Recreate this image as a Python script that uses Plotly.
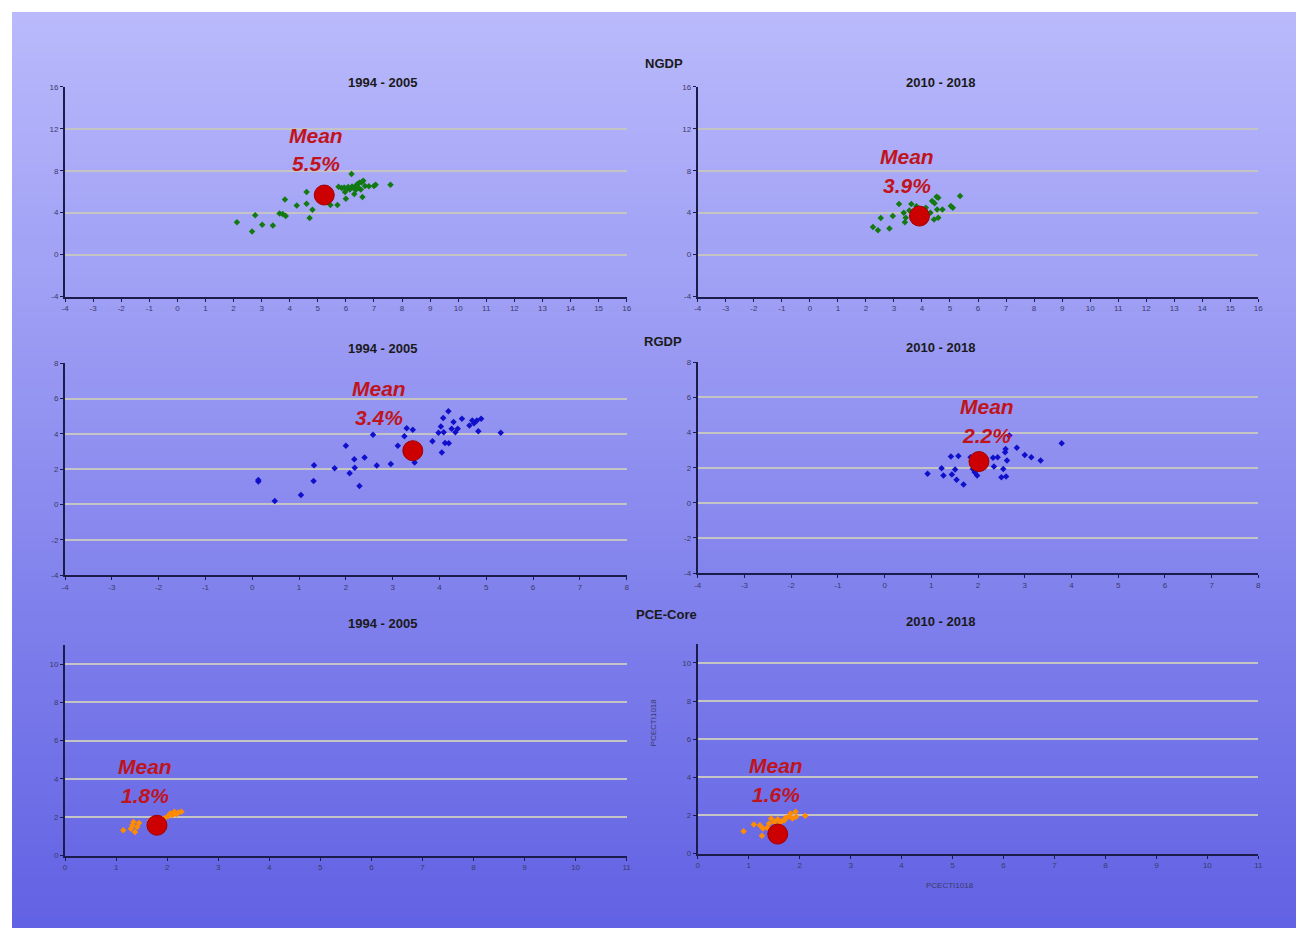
import plotly.graph_objects as go

# ---------------- data ----------------
ngdp_9405_x = [2.12, 2.66, 2.77, 3.02, 3.40, 3.64, 3.75, 3.86, 3.83, 4.25, 4.60, 4.60, 4.71, 4.81,
               5.45, 5.70, 5.74, 5.85, 5.97, 6.00, 6.08, 6.20, 6.26, 6.30, 6.38, 6.44, 6.48, 6.53,
               6.59, 6.62, 6.68, 6.82, 7.00, 7.06, 7.59, 5.94, 6.14, 6.35, 6.05, 6.22, 6.40, 6.56]
ngdp_9405_y = [3.09, 2.20, 3.76, 2.84, 2.78, 3.92, 3.86, 3.67, 5.26, 4.69, 5.96, 4.85, 3.48, 4.27,
               4.72, 4.72, 6.48, 6.35, 5.96, 5.33, 6.44, 7.69, 6.38, 5.77, 6.60, 6.38, 6.86, 6.22,
               5.49, 7.05, 6.54, 6.51, 6.54, 6.67, 6.67, 6.41, 6.22, 6.16, 6.30, 6.50, 6.70, 6.90]
ngdp_1018_x = [2.25, 2.43, 2.53, 2.84, 2.96, 3.18, 3.35, 3.39, 3.62, 3.69, 4.14, 4.36, 4.43, 4.52,
               4.58, 4.54, 4.73, 5.03, 5.10, 5.36, 4.58, 3.42, 3.55, 4.30, 4.45, 3.80]
ngdp_1018_y = [2.62, 2.33, 3.48, 2.49, 3.67, 4.82, 3.99, 3.09, 4.82, 3.99, 4.47, 5.10, 3.35, 5.52,
               3.51, 4.31, 4.31, 4.63, 4.47, 5.58, 5.42, 3.51, 4.20, 4.00, 4.90, 4.60]
rgdp_9405_x = [0.13, 0.13, 0.48, 1.04, 1.31, 1.32, 1.76, 2.00, 2.08, 2.18, 2.19, 2.29, 2.40, 2.58,
               2.66, 2.96, 3.11, 3.25, 3.30, 3.43, 3.47, 3.50, 3.85, 3.98, 4.03, 4.05, 4.08, 4.09,
               4.12, 4.19, 4.20, 4.26, 4.30, 4.34, 4.39, 4.48, 4.64, 4.70, 4.74, 4.80, 4.83, 4.89, 5.31]
rgdp_9405_y = [1.30, 1.39, 0.19, 0.53, 1.33, 2.23, 2.06, 3.33, 1.77, 2.57, 2.08, 1.05, 2.67, 3.96,
               2.21, 2.30, 3.33, 3.87, 4.32, 4.23, 2.38, 3.33, 3.58, 4.06, 4.42, 2.95, 4.90, 4.10,
               3.49, 5.28, 3.47, 4.29, 4.67, 4.10, 4.29, 4.86, 4.48, 4.76, 4.61, 4.76, 4.15, 4.86, 4.06]
rgdp_1018_x = [0.92, 1.22, 1.26, 1.42, 1.44, 1.51, 1.54, 1.58, 1.69, 1.84, 1.89, 1.93, 1.98, 2.02,
               2.32, 2.34, 2.42, 2.50, 2.54, 2.58, 2.59, 2.60, 2.62, 2.67, 2.83, 3.00, 3.14, 3.34, 3.79]
rgdp_1018_y = [1.65, 1.97, 1.55, 2.64, 1.61, 1.90, 1.31, 2.67, 1.04, 2.60, 1.93, 1.74, 1.55, 2.12,
               2.56, 2.07, 2.60, 1.46, 1.93, 2.88, 3.07, 1.50, 2.41, 3.83, 3.13, 2.73, 2.60, 2.41, 3.39]
pce_9405_x = [1.14, 1.29, 1.34, 1.37, 1.41, 1.45, 1.32, 1.67, 2.02, 2.06, 2.14, 2.22, 2.28, 2.10, 1.95, 2.18]
pce_9405_y = [1.32, 1.40, 1.75, 1.23, 1.49, 1.70, 1.58, 1.84, 2.07, 2.19, 2.28, 2.25, 2.28, 2.10, 1.95, 2.15]
pce_1018_x = [0.90, 1.10, 1.22, 1.28, 1.26, 1.36, 1.44, 1.50, 1.57, 1.65, 1.72, 1.78, 1.82, 1.86,
              1.92, 1.93, 2.11, 1.40, 1.60, 1.70]
pce_1018_y = [1.17, 1.52, 1.49, 1.31, 0.93, 1.35, 1.84, 1.66, 1.80, 1.70, 1.87, 1.93, 2.10, 1.84,
              2.19, 1.93, 1.98, 1.58, 1.55, 1.75]

mean_x = [5.23, 3.91, 3.43, 2.02, 1.80, 1.57]
mean_y = [5.68, 3.67, 3.05, 2.35, 1.58, 1.02]
mean_labels = ["5.5%", "3.9%", "3.4%", "2.2%", "1.8%", "1.6%"]
label_x = [4.95, 3.46, 2.70, 2.19, 1.57, 1.53]
label_mean_y = [11.33, 9.33, 6.59, 5.50, 4.66, 4.61]
label_pct_y = [8.67, 6.57, 4.94, 3.85, 3.14, 3.09]

series_x = [ngdp_9405_x, ngdp_1018_x, rgdp_9405_x, rgdp_1018_x, pce_9405_x, pce_1018_x]
series_y = [ngdp_9405_y, ngdp_1018_y, rgdp_9405_y, rgdp_1018_y, pce_9405_y, pce_1018_y]
series_color = ["#137a13", "#137a13", "#1010cc", "#1010cc", "#ff8c00", "#ff8c00"]

panel_titles = ["1994 - 2005", "2010 - 2018"] * 3
group_titles = ["NGDP", "RGDP", "PCE-Core"]

# tick values / labels (hyphen minus as in the original)
ngdp_xticks = list(range(-4, 17))
ngdp_yticks = [-4, 0, 4, 8, 12, 16]
rgdp_xticks = list(range(-4, 9))
rgdp_yticks = [-4, -2, 0, 2, 4, 6, 8]
pce_xticks = list(range(0, 12))
pce_yticks = [0, 2, 4, 6, 8, 10]
x_tickvals = [ngdp_xticks, ngdp_xticks, rgdp_xticks, rgdp_xticks, pce_xticks, pce_xticks]
y_tickvals = [ngdp_yticks, ngdp_yticks, rgdp_yticks, rgdp_yticks, pce_yticks, pce_yticks]

x_ranges = [[-4, 16], [-4, 16], [-4, 8], [-4, 8], [0, 11], [0, 11]]
y_ranges = [[-4, 16], [-4, 16], [-4, 8], [-4, 8], [0, 11], [0, 11]]

# ---------------- layout geometry ----------------
W, H = 1296, 924
x_domains = [[0.04123, 0.47759], [0.53281, 0.96840]] * 3
y_domains = [[0.68907, 0.91818], [0.68907, 0.91818],
             [0.38469, 0.61597], [0.38687, 0.61707],
             [0.07813, 0.30832], [0.08030, 0.30942]]

fig = go.Figure()

# gradient background
n_bands = 90
top_c = (185, 185, 252)
bot_c = (98, 98, 228)
for i in range(n_bands):
    t = i / (n_bands - 1)
    c = tuple(int(round(top_c[k] + (bot_c[k] - top_c[k]) * t)) for k in range(3))
    fig.add_shape(type="rect", xref="paper", yref="paper",
                  x0=0, x1=1, y0=1 - (i + 1) / n_bands - 0.001, y1=1 - i / n_bands,
                  fillcolor="rgb(%d,%d,%d)" % c, line=dict(width=0), layer="below")

axis_font = dict(family="Liberation Sans, Arial", size=8, color="#3a3a6a")


def fmt(v):
    return ("-%d" % -v) if v < 0 else str(v)


for i in range(6):
    ax = "" if i == 0 else str(i + 1)
    xa = "x" + ax
    ya = "y" + ax
    fig.add_trace(go.Scatter(x=series_x[i], y=series_y[i], mode="markers",
                             marker=dict(symbol="diamond", size=5, color=series_color[i],
                                         line=dict(width=0)),
                             xaxis=xa, yaxis=ya, showlegend=False, hoverinfo="x+y"))
    fig.add_trace(go.Scatter(x=[mean_x[i]], y=[mean_y[i]], mode="markers",
                             marker=dict(symbol="circle", size=20, color="#cc0000",
                                         line=dict(width=1, color="#a00000")),
                             xaxis=xa, yaxis=ya, showlegend=False, hoverinfo="x+y"))
    common = dict(showline=True, linecolor="#1c1c4c", linewidth=2, ticks="outside",
                  ticklen=3, tickcolor="#1c1c4c", tickfont=axis_font, zeroline=False,
                  mirror=False, tickmode="array")
    fig.layout["xaxis" + ax] = dict(domain=x_domains[i], range=x_ranges[i],
                                    tickvals=x_tickvals[i],
                                    ticktext=[fmt(v) for v in x_tickvals[i]],
                                    showgrid=False, anchor=ya, fixedrange=True, **common)
    fig.layout["yaxis" + ax] = dict(domain=y_domains[i], range=y_ranges[i],
                                    tickvals=y_tickvals[i],
                                    ticktext=[fmt(v) for v in y_tickvals[i]],
                                    showgrid=True, gridcolor="#c4c4c4", gridwidth=1.5,
                                    anchor=xa, fixedrange=True, **common)
    mean_font = dict(family="Liberation Sans, Arial", size=21, color="#c0141c")
    fig.add_annotation(x=label_x[i], y=label_mean_y[i], xref=xa, yref=ya,
                       text="<b><i>Mean</i></b>", showarrow=False, font=mean_font)
    fig.add_annotation(x=label_x[i], y=label_pct_y[i], xref=xa, yref=ya,
                       text="<b><i>%s</i></b>" % mean_labels[i], showarrow=False, font=mean_font)

# titles
title_font = dict(family="Liberation Sans, Arial", size=13, color="#1a1a1a")
group_pos = [(0.50637, 0.95418), (0.50559, 0.63998), (0.50870, 0.33123)]
for g, (gx, gy) in zip(group_titles, group_pos):
    fig.add_annotation(x=gx, y=gy, xref="paper", yref="paper", text="<b>%s</b>" % g,
                       showarrow=False, font=title_font)
sub_pos = [(0.25980, 0.93345), (0.74982, 0.93345), (0.25980, 0.63234), (0.74982, 0.63343),
           (0.25980, 0.32141), (0.74982, 0.32359)]
for t, (sx, sy) in zip(panel_titles, sub_pos):
    fig.add_annotation(x=sx, y=sy, xref="paper", yref="paper", text="<b>%s</b>" % t,
                       showarrow=False, font=title_font)

# axis titles of last panel
small_font = dict(family="Liberation Sans, Arial", size=8, color="#3a3a6a")
fig.add_annotation(x=0.49859, y=0.19486, xref="paper", yref="paper", text="PCECTI1018",
                   textangle=-90, showarrow=False, font=small_font)
fig.add_annotation(x=0.74905, y=0.03799, xref="paper", yref="paper", text="PCECTI1018",
                   showarrow=False, font=small_font)

fig.update_layout(width=W, height=H, margin=dict(l=0, r=0, t=0, b=0),
                  paper_bgcolor="white", plot_bgcolor="#e6e6e6", showlegend=False,
                  font=dict(family="Liberation Sans, Arial"))

fig.write_html("out.html")
